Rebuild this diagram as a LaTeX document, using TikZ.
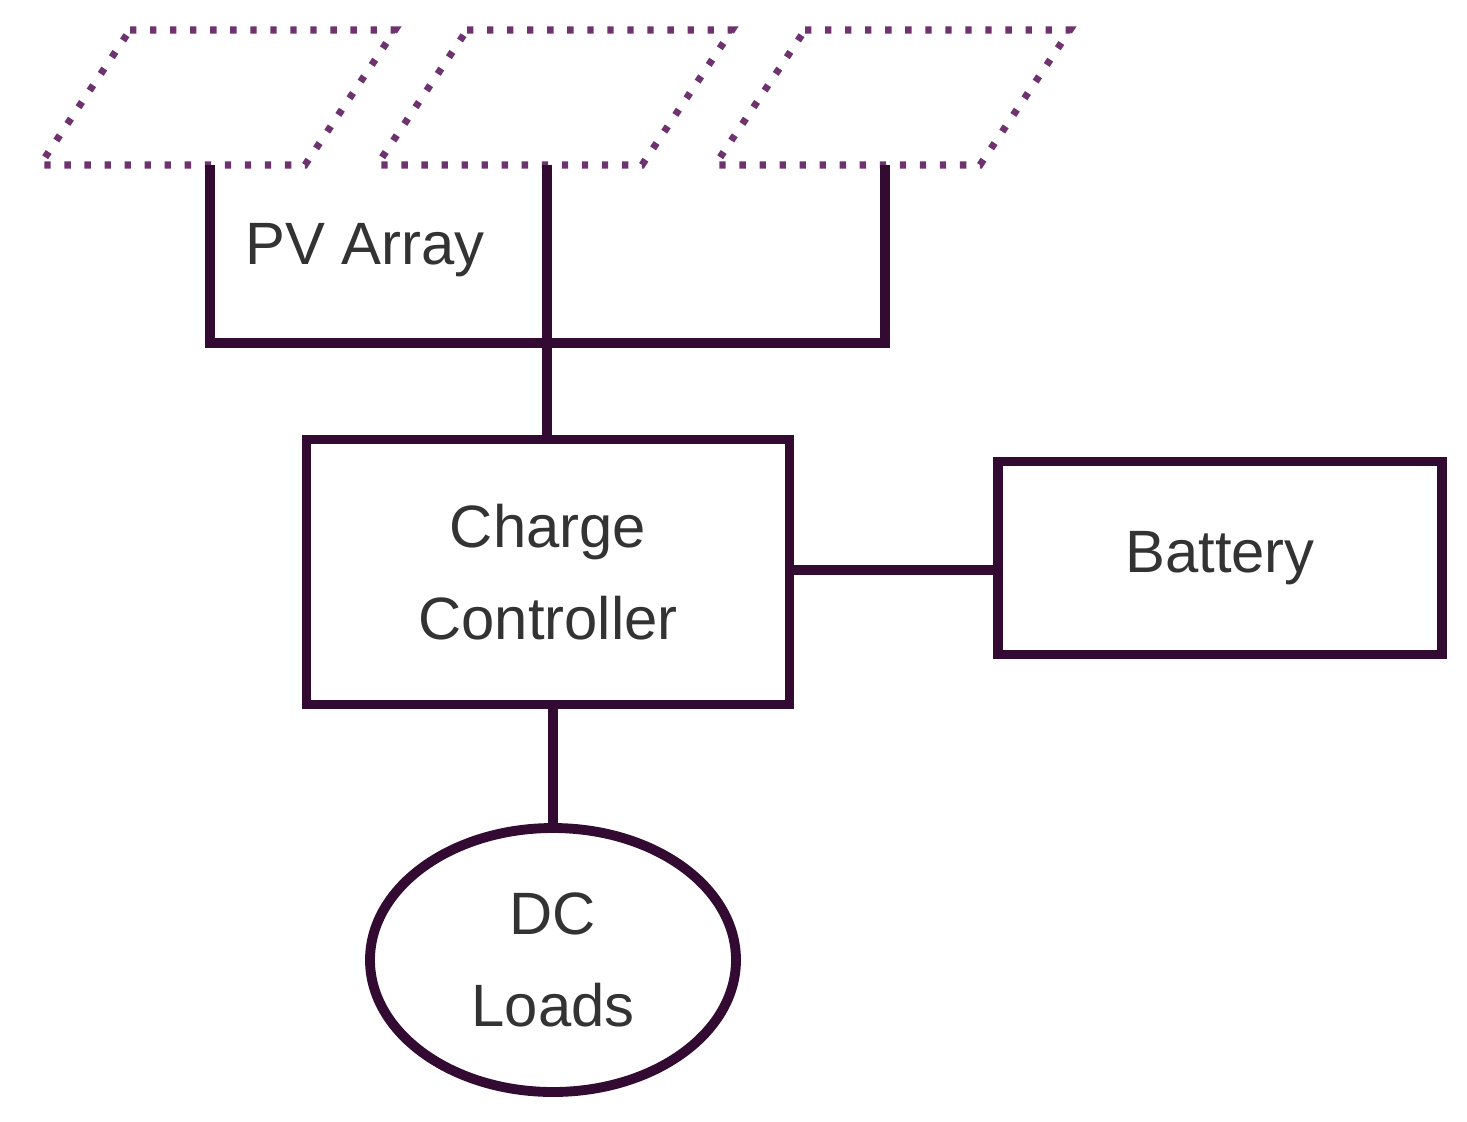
\documentclass[tikz,border=0pt]{standalone}
\usepackage{fontspec}
\setmainfont{Liberation Sans}
\usetikzlibrary{shapes.geometric}
\definecolor{wire}{RGB}{50,10,50}
\definecolor{dots}{RGB}{110,50,110}
\begin{document}
\begin{tikzpicture}[x=0.01cm,y=-0.01cm,
  wire/.style={draw=wire,line width=2.8pt},
  panel/.style={draw=dots,line width=2pt,dash pattern=on 1.8pt off 3.9pt},
  lbl/.style={font=\fontsize{17}{26}\selectfont,text=black!80,align=center}]
\useasboundingbox (0,0) rectangle (1467,1121);
\foreach \dx in {0,337,675}{
  \draw[panel] (130+\dx,30) -- (395+\dx,30) -- (305+\dx,165) -- (40+\dx,165) -- cycle;
}
\coordinate (p1) at (210,165);
\coordinate (p2) at (547,165);
\coordinate (p3) at (885,165);
\coordinate (b1) at (210,343);
\coordinate (b2) at (547,343);
\coordinate (b3) at (885,343);
\node[wire,draw,minimum width=483*0.01cm,minimum height=265*0.01cm,lbl] (cc) at (548,572) {Charge\\Controller};
\node[wire,draw,minimum width=444*0.01cm,minimum height=193*0.01cm,lbl] (bat) at (1220,558) {Battery};
\node[wire,draw,ellipse,minimum width=366*0.01cm,minimum height=264*0.01cm,lbl] (dc) at (553,960) {DC\\Loads};
\node[lbl] (pv) at (365,250) {PV Array};
\draw[wire,line join=miter] (p1) -- (b1) -- (b3) -- (p3);
\draw[wire] (p2) -- (b2) -- (cc.north -| b2);
\draw[wire] (cc.east |- 0,570) -- (bat.west |- 0,570);
\draw[wire] (cc.south -| dc.north) -- (dc.north);
\end{tikzpicture}
\end{document}
